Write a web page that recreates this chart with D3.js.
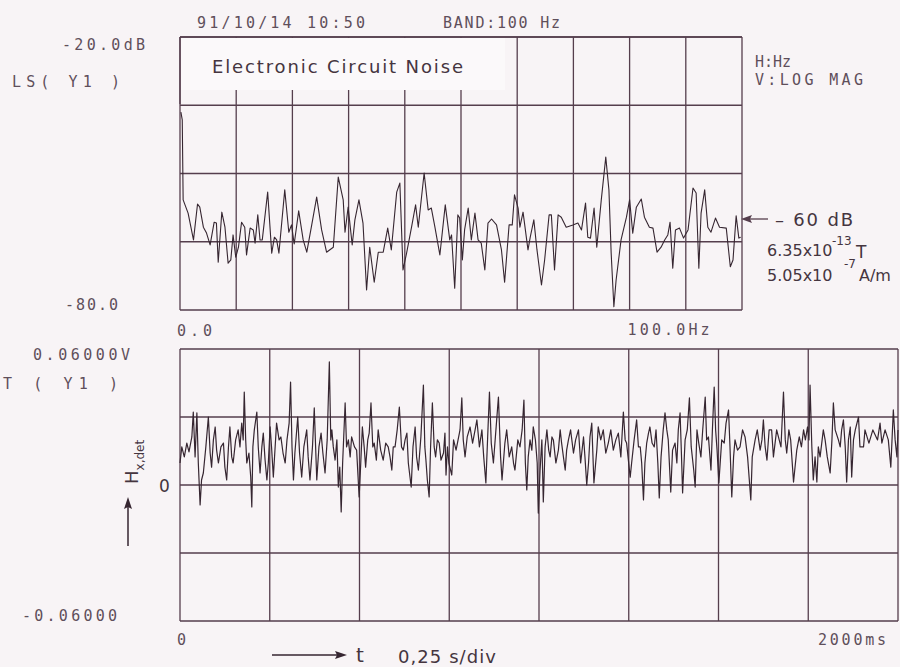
<!DOCTYPE html>
<html>
<head>
<meta charset="utf-8">
<script src="https://cdn.jsdelivr.net/npm/d3@7"></script>
<style>
  html, body { margin: 0; padding: 0; background: #f8f4f6; }
  svg { display: block; }
  .plotter { font-family: "DejaVu Sans Mono", monospace; font-size: 15px; fill: #5f4f5b; }
  .hand { font-family: "DejaVu Sans", sans-serif; fill: #45353f; }
</style>
</head>
<body>
<div id="chart"></div>
<script>
// spectrum trace: [frequency Hz, level dB]
let spectrum = [
    [0.2, -36.5], [0.5, -38.2], [0.7, -55.8], [1.8, -58.7], [3.0, -64.6], [3.9, -56.7], [4.4, -57.4], [5.2, -61.8],
    [5.9, -63.1], [6.7, -65.7], [7.6, -60.7], [8.1, -60.9], [8.5, -69.5], [9.3, -58.5], [10.0, -61.8], [10.7, -69.7],
    [11.3, -69.0], [11.8, -63.5], [12.4, -68.4], [13.0, -66.2], [13.7, -60.7], [14.4, -61.8], [14.8, -67.9], [15.6, -62.0],
    [16.3, -62.4], [16.7, -65.3], [17.3, -59.1], [17.8, -64.6], [18.3, -64.6], [19.5, -54.1], [20.4, -67.5], [21.0, -64.0],
    [21.5, -64.6], [22.0, -67.5], [23.3, -53.6], [24.2, -62.9], [24.8, -61.3], [25.4, -65.5], [26.4, -58.2], [27.4, -64.6],
    [28.2, -67.3], [29.3, -61.3], [30.4, -55.2], [31.5, -62.4], [32.6, -67.3], [34.1, -66.2], [35.2, -50.8], [36.3, -55.8],
    [36.7, -62.9], [37.4, -57.4], [38.3, -65.7], [38.9, -60.2], [39.8, -55.8], [40.7, -60.9], [41.5, -75.6], [42.2, -66.2],
    [43.2, -73.9], [44.1, -67.3], [45.2, -67.3], [46.2, -62.0], [47.0, -66.8], [48.2, -54.1], [48.9, -52.1], [49.6, -71.2],
    [50.4, -67.5], [51.5, -61.8], [52.4, -56.9], [53.0, -61.8], [54.3, -49.9], [55.2, -58.0], [55.9, -57.6], [56.7, -61.8],
    [57.8, -67.9], [59.0, -56.9], [60.0, -64.6], [60.4, -63.5], [61.1, -75.2], [61.8, -59.1], [62.2, -59.8], [62.8, -69.0],
    [63.3, -62.4], [64.1, -57.6], [64.8, -64.6], [65.6, -58.7], [66.3, -64.6], [67.0, -65.3], [67.8, -71.2], [68.5, -60.9],
    [69.3, -60.0], [70.4, -61.3], [71.5, -66.8], [72.2, -73.9], [73.2, -61.3], [73.9, -61.3], [74.4, -54.7], [75.2, -57.6],
    [75.6, -61.8], [76.3, -58.5], [77.4, -66.8], [77.9, -64.0], [78.7, -60.2], [79.4, -66.8], [80.4, -74.5], [81.1, -69.0],
    [82.1, -59.1], [82.6, -59.1], [83.3, -71.2], [84.1, -59.1], [84.8, -59.6], [85.9, -61.8], [87.4, -61.3], [88.5, -60.9],
    [89.3, -62.4], [90.2, -56.5], [90.7, -64.0], [91.3, -64.2], [92.1, -57.6], [92.7, -66.2], [93.7, -55.8], [94.7, -46.4],
    [95.4, -53.6], [95.9, -67.5], [96.5, -79.3], [97.0, -73.4], [98.1, -64.6], [99.3, -59.6], [100.0, -55.8], [100.7, -63.1],
    [101.5, -57.4], [102.6, -55.6], [103.3, -59.6], [104.4, -61.8], [105.2, -62.0], [106.1, -67.3], [107.0, -66.2], [107.8, -64.6],
    [108.5, -63.5], [109.0, -60.7], [109.6, -70.8], [110.2, -62.4], [111.1, -62.0], [112.0, -64.2], [113.0, -62.4], [114.1, -53.2],
    [114.8, -54.3], [115.4, -70.8], [115.9, -58.7], [116.7, -53.6], [117.4, -61.8], [118.1, -62.9], [119.1, -59.8], [120.0, -61.8],
    [121.5, -62.0], [122.4, -70.5], [123.0, -69.0], [123.7, -59.3], [124.3, -64.2], [124.7, -64.0]
];

// time trace: [time ms, amplitude mV]
let waveform = [
    [0, 9.7], [5, 16.8], [12, 12.4], [19, 18.5], [25, 14.6], [33, 21.2], [37, 32.2], [42, 12.4], [47, 31.8], [51, 9.7],
    [56, -8.8], [60, 2.2], [65, 5.3], [72, 16.8], [79, 30.0], [84, 14.1], [88, 7.9], [93, 19.9], [98, 25.6], [102, 15.4],
    [107, 9.7], [114, 16.8], [121, 18.5], [125, 7.9], [130, 2.2], [135, 16.8], [139, 25.6], [144, 12.4], [148, 9.7], [155, 19.9],
    [162, 24.3], [167, 16.8], [172, 27.3], [176, 19.9], [179, 41.0], [183, 19.9], [186, 9.7], [192, 14.1], [197, 3.5], [200, -9.7],
    [203, 16.8], [207, 24.3], [214, 32.2], [218, 16.8], [223, 5.3], [228, 16.8], [232, 22.9], [237, 11.0], [242, 2.2], [246, 9.7],
    [251, 25.6], [255, 16.8], [260, 3.5], [265, 16.8], [269, 27.3], [276, 19.9], [281, 21.2], [287, 14.1], [293, 9.7], [298, 19.9],
    [304, 27.3], [308, 45.4], [312, 16.8], [316, 2.2], [320, 14.1], [328, 30.0], [333, 14.1], [339, 3.5], [345, 16.8], [353, 24.3],
    [357, 12.4], [362, 2.2], [369, 16.8], [374, 34.0], [381, 2.2], [387, 16.8], [393, 22.9], [398, 14.1], [404, 5.3], [410, 19.9],
    [416, 54.3], [420, 19.9], [423, 24.3], [427, 16.8], [432, 11.0], [437, 19.9], [441, -0.9], [445, 7.9], [449, -11.9], [453, 9.7],
    [460, 36.2], [464, 16.8], [469, 19.9], [474, 12.4], [478, 21.2], [486, 16.8], [492, 15.4], [499, -5.3], [503, 7.9], [508, 25.6],
    [513, 16.8], [517, 7.9], [523, 19.9], [527, 22.9], [532, 36.2], [537, 16.8], [541, 18.5], [547, 11.0], [552, 24.3], [559, 15.4],
    [566, 11.0], [573, 18.5], [580, 16.8], [585, 12.4], [590, 6.6], [594, 16.8], [599, 16.8], [605, 24.3], [611, 34.4], [617, 16.8],
    [622, 15.4], [627, 19.9], [632, 22.9], [636, 9.7], [644, -0.9], [649, 16.8], [655, 25.6], [659, 12.4], [664, 6.6], [671, 21.2],
    [678, 44.1], [682, 16.8], [685, 11.0], [689, 2.2], [694, -5.3], [698, 16.8], [703, 36.2], [708, 16.8], [712, 12.4], [717, 19.9],
    [722, 18.5], [727, 11.0], [734, 14.1], [738, 22.9], [741, 4.4], [745, 16.8], [749, 9.7], [757, 4.4], [762, 19.9], [769, 15.4],
    [780, 24.3], [785, 38.4], [789, 19.9], [794, 12.4], [800, 21.2], [808, 25.6], [815, 18.5], [822, 24.3], [827, 28.7], [834, 16.8],
    [841, 24.3], [846, 12.4], [852, 0.9], [857, 21.2], [862, 41.0], [867, 18.5], [873, 9.7], [880, 24.3], [887, 38.8], [893, 12.4],
    [897, 2.2], [905, 18.5], [910, 24.3], [917, 12.4], [924, 16.8], [929, 9.7], [933, 6.6], [941, 19.9], [947, 16.8], [953, 24.3],
    [958, 37.5], [962, 9.7], [966, -2.2], [970, 12.4], [975, 19.9], [980, 15.4], [984, 25.6], [990, 19.9], [995, 9.7], [998, -12.4],
    [1003, 6.6], [1008, 19.9], [1012, -7.5], [1017, 16.8], [1022, 24.3], [1027, 15.4], [1031, 12.4], [1036, 21.2], [1040, 19.9], [1047, 9.7],
    [1054, 15.4], [1059, 24.3], [1063, 18.5], [1068, 12.4], [1073, 6.6], [1077, 15.4], [1082, 19.9], [1088, 24.3], [1096, 14.1], [1102, 19.9],
    [1110, 24.3], [1116, 9.7], [1124, 21.2], [1128, 12.4], [1133, 0.0], [1138, 9.7], [1142, 21.2], [1147, 27.3], [1153, 0.9], [1161, 15.4],
    [1165, 25.6], [1172, 19.9], [1179, 24.3], [1186, 14.1], [1193, 18.5], [1200, 24.3], [1207, 15.4], [1214, 19.9], [1221, 22.9], [1228, 12.4],
    [1235, 32.2], [1240, 19.9], [1244, 18.5], [1254, 3.5], [1258, 9.7], [1265, 19.9], [1272, 28.7], [1277, 16.8], [1282, 16.8], [1286, 9.7],
    [1291, -6.6], [1295, 9.7], [1300, 18.5], [1305, 22.9], [1309, 25.6], [1315, 18.5], [1321, 16.8], [1326, 24.3], [1331, 9.7], [1335, -5.7],
    [1340, 12.4], [1346, 24.3], [1351, 31.8], [1356, 24.3], [1360, 19.9], [1367, -3.1], [1372, 15.4], [1379, 18.5], [1384, 9.7], [1388, 24.3],
    [1393, 31.8], [1397, 12.4], [1400, -3.5], [1407, 19.9], [1413, 24.3], [1419, 38.4], [1424, 16.8], [1431, 6.6], [1435, -0.9], [1440, 24.3],
    [1445, 18.5], [1451, 12.4], [1456, 24.3], [1463, 38.8], [1467, 19.9], [1472, 21.2], [1479, 6.6], [1483, 24.3], [1488, 43.2], [1492, 24.3],
    [1496, 15.4], [1501, 0.9], [1509, 19.9], [1516, 18.5], [1521, 27.3], [1528, 33.1], [1532, 16.8], [1537, -5.3], [1542, 12.4], [1546, 19.9],
    [1553, 15.4], [1560, 16.8], [1567, 24.3], [1574, 21.2], [1581, 12.4], [1590, -6.6], [1594, 12.4], [1602, 19.9], [1608, 24.3], [1616, 15.4],
    [1621, 19.9], [1625, 28.7], [1630, 16.8], [1635, 11.0], [1641, 24.3], [1648, 24.3], [1653, 12.4], [1662, 24.3], [1674, 16.8], [1681, 41.0],
    [1686, 19.9], [1690, 14.1], [1696, 24.3], [1701, 19.9], [1709, 1.3], [1718, 15.4], [1725, 21.2], [1731, 16.8], [1737, 24.3], [1742, 19.9],
    [1748, 25.6], [1752, 19.9], [1755, 44.1], [1760, 16.8], [1764, 2.2], [1769, 12.4], [1774, 1.3], [1778, 16.8], [1783, 12.4], [1792, 24.3],
    [1797, 19.9], [1803, 12.4], [1811, 5.3], [1816, 19.9], [1820, 36.2], [1825, 24.3], [1834, 19.9], [1839, 16.8], [1843, 24.3], [1848, 28.7],
    [1853, 16.8], [1857, 1.3], [1862, 19.9], [1867, 25.6], [1871, 3.5], [1876, 19.9], [1881, 24.3], [1890, 30.0], [1894, 16.8], [1904, 16.8],
    [1908, 24.3], [1919, 18.5], [1930, 24.3], [1943, 19.9], [1950, 27.3], [1955, 18.5], [1964, 24.3], [1973, 19.9], [1980, 7.9], [1987, 33.1],
    [1992, 19.9], [1997, 12.4], [2000, 24.3]
];

// grid divisions of the two screens
let dbGrid = [-20, -35, -50, -65, -80];
let freqGrid = [0, 12.5, 25, 37.5, 50, 62.5, 75, 87.5, 100, 112.5, 125];
let mvGrid = [60, 30, 0, -30, -60];
let timeGrid = [0, 250, 500, 750, 1000, 1250, 1500, 1750, 2000];

let refLevelDb = -60;

let inkGrid = "#553e4d";
let inkTrace = "#362631";

let svg = d3.select("#chart").append("svg")
    .attr("width", 900)
    .attr("height", 667);

// scales for the upper (spectrum) and lower (time) screens
let xFreq = d3.scaleLinear().domain([0, 125]).range([180, 742]);
let yDb = d3.scaleLinear().domain([-20, -80]).range([37, 310]);
let xTime = d3.scaleLinear().domain([0, 2000]).range([180, 898]);
let yMv = d3.scaleLinear().domain([60, -60]).range([349, 621]);

/**
 * draw the grid of one screen
 */
function drawGrid(xScale, yScale, xTicks, yTicks) {
    let g = svg.append("g")
        .attr("stroke", inkGrid)
        .attr("stroke-width", 1.3)
        .attr("fill", "none");
    let x0 = xScale.range()[0], x1 = xScale.range()[1];
    let y0 = yScale.range()[0], y1 = yScale.range()[1];
    g.selectAll(".v").data(xTicks).enter().append("line")
        .attr("x1", d => xScale(d)).attr("x2", d => xScale(d))
        .attr("y1", y0).attr("y2", y1);
    g.selectAll(".h").data(yTicks).enter().append("line")
        .attr("x1", x0).attr("x2", x1)
        .attr("y1", d => yScale(d)).attr("y2", d => yScale(d));
    return g;
}

drawGrid(xFreq, yDb, freqGrid, dbGrid);
drawGrid(xTime, yMv, timeGrid, mvGrid);

// title pasted over the top-left of the spectrum grid
svg.append("rect")
    .attr("x", 181).attr("y", 38)
    .attr("width", 324).attr("height", 52)
    .attr("fill", "#fbf9fa");

// redraw the outer frame line on top of the pasted box
svg.append("line")
    .attr("x1", 180).attr("x2", 742)
    .attr("y1", yDb(-20)).attr("y2", yDb(-20))
    .attr("stroke", inkGrid).attr("stroke-width", 1.3);
svg.append("line")
    .attr("x1", 180).attr("x2", 180)
    .attr("y1", 37).attr("y2", 104)
    .attr("stroke", inkGrid).attr("stroke-width", 1.3);

svg.append("text")
    .attr("class", "hand")
    .attr("x", 212).attr("y", 73)
    .attr("textLength", 251)
    .attr("lengthAdjust", "spacing")
    .style("font-size", "18px")
    .text("Electronic Circuit Noise");

// traces
let specLine = d3.line()
    .x(d => xFreq(d[0]))
    .y(d => yDb(d[1]));
svg.append("path")
    .datum(spectrum)
    .attr("d", specLine)
    .attr("fill", "none")
    .attr("stroke", inkTrace)
    .attr("stroke-width", 1.1)
    .attr("stroke-linejoin", "round");

let waveLine = d3.line()
    .x(d => xTime(d[0]))
    .y(d => yMv(d[1]));
svg.append("path")
    .datum(waveform)
    .attr("d", waveLine)
    .attr("fill", "none")
    .attr("stroke", inkTrace)
    .attr("stroke-width", 1.2)
    .attr("stroke-linejoin", "round");

// plotter annotations
function plotterText(str, x, y, w) {
    let t = svg.append("text")
        .attr("class", "plotter")
        .attr("x", x).attr("y", y)
        .text(str);
    if (w) t.attr("textLength", w).attr("lengthAdjust", "spacing");
    return t;
}

plotterText("91/10/14 10:50", 197, 28, 168);
plotterText("BAND:100 Hz", 443, 28, 117);
plotterText("-20.0dB", 62, 50, 83);
plotterText("LS( Y1   )", 12, 87, 108);
plotterText("H:Hz", 755, 67, 36);
plotterText("V:LOG MAG", 755, 85, 108);
plotterText("-80.0", 65, 310, 53);
plotterText("0.0", 177, 336, 35);
plotterText("100.0Hz", xFreq(100) - 2, 335, 82);
plotterText("0.06000V", 33, 360, 97);
plotterText("T ( Y1   )", 3, 389, 115);
plotterText("-0.06000", 22, 621, 95);
plotterText("0", 177, 645);
plotterText("2000ms", 818, 645, 68);

// -60 dB reference marker
let yRef = yDb(refLevelDb);
svg.append("line")
    .attr("x1", 748).attr("x2", 768)
    .attr("y1", yRef).attr("y2", yRef)
    .attr("stroke", inkGrid).attr("stroke-width", 1.3);
svg.append("path")
    .attr("d", "M741," + yRef + "L752," + (yRef - 4) + "L750," + yRef + "L752," + (yRef + 4) + "Z")
    .attr("fill", inkGrid);
svg.append("text").attr("class", "hand")
    .attr("x", 775).attr("y", yRef + 7)
    .attr("textLength", 78).attr("lengthAdjust", "spacing")
    .style("font-size", "18px")
    .text("\u2013 60 dB");

svg.append("text").attr("class", "hand")
    .attr("x", 767).attr("y", 256)
    .style("font-size", "16px")
    .text("6.35x10");
svg.append("text").attr("class", "hand")
    .attr("x", 832).attr("y", 245)
    .style("font-size", "12px")
    .text("-13");
svg.append("text").attr("class", "hand")
    .attr("x", 856).attr("y", 258)
    .style("font-size", "17px")
    .text("T");

svg.append("text").attr("class", "hand")
    .attr("x", 767).attr("y", 281)
    .style("font-size", "16px")
    .text("5.05x10");
svg.append("text").attr("class", "hand")
    .attr("x", 844).attr("y", 268)
    .style("font-size", "12px")
    .text("-7");
svg.append("text").attr("class", "hand")
    .attr("x", 859).attr("y", 281)
    .style("font-size", "16px")
    .text("A/m");

// lower screen: zero mark and axis symbols
svg.append("text").attr("class", "hand")
    .attr("x", 159).attr("y", yMv(0) + 7)
    .style("font-size", "17px")
    .text("0");

let hLabel = svg.append("text").attr("class", "hand")
    .attr("transform", "translate(138,484) rotate(-90)")
    .style("font-size", "18px");
hLabel.append("tspan").text("H");
hLabel.append("tspan").attr("dy", 6).style("font-size", "12px").text("x,det");

svg.append("line")
    .attr("x1", 128).attr("x2", 128)
    .attr("y1", 546).attr("y2", 506)
    .attr("stroke", inkTrace).attr("stroke-width", 1.5);
svg.append("path")
    .attr("d", "M128,497L124,509L128,507L132,509Z")
    .attr("fill", inkTrace);

svg.append("line")
    .attr("x1", 272).attr("x2", 338)
    .attr("y1", 655).attr("y2", 655)
    .attr("stroke", inkTrace).attr("stroke-width", 1.5);
svg.append("path")
    .attr("d", "M347,655L335,651L337,655L335,659Z")
    .attr("fill", inkTrace);
svg.append("text").attr("class", "hand")
    .attr("x", 356).attr("y", 662)
    .style("font-size", "20px")
    .text("t");
svg.append("text").attr("class", "hand")
    .attr("x", 398).attr("y", 663)
    .attr("textLength", 98).attr("lengthAdjust", "spacing")
    .style("font-size", "18px")
    .text("0,25 s/div");
</script>
</body>
</html>
